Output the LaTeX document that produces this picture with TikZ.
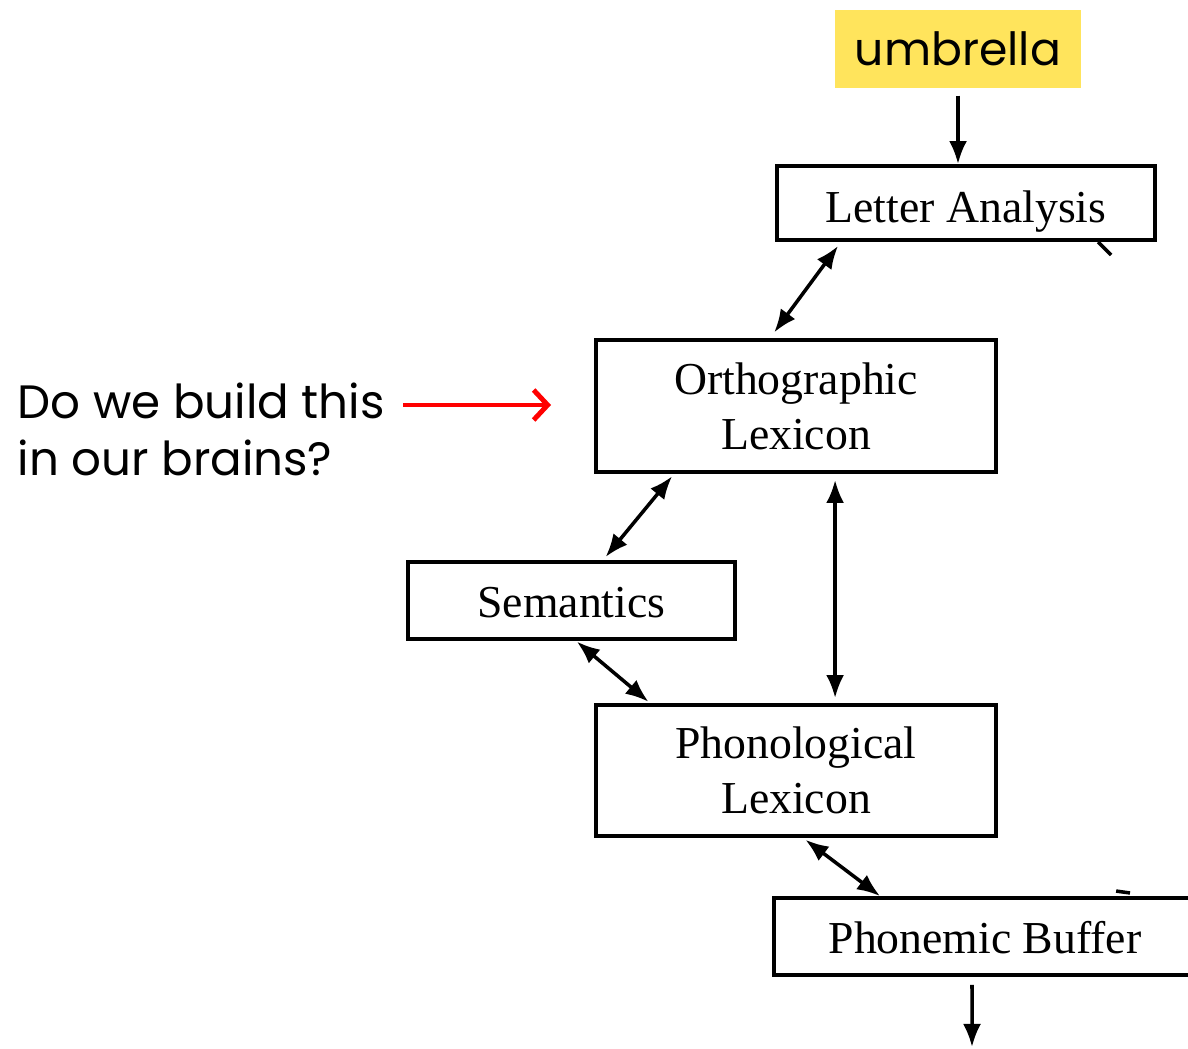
\documentclass[tikz,border=0pt]{standalone}
\usepackage{fontspec}
\setmainfont{Liberation Serif}
\newfontfamily\qfont{Poppins}
\usetikzlibrary{arrows.meta}
\definecolor{hiyellow}{RGB}{255,228,92}
\begin{document}
\begin{tikzpicture}[x=0.01cm, y=-0.01cm,
    box/.style={draw, line width=1.1pt, align=center, inner sep=0pt,
      font=\fontsize{13}{15.6}\selectfont},
    link/.style={line width=1pt, -{Latex[length=0.23cm,width=0.18cm]}},
    dlink/.style={line width=1pt, {Latex[length=0.23cm,width=0.18cm]}-{Latex[length=0.23cm,width=0.18cm]}},
    ask/.style={red, line width=1.4pt, -{Straight Barb[length=0.14cm,width=0.3cm]}}]
  \useasboundingbox (0,0) rectangle (1188,1049);

  \node (word) [fill=hiyellow, minimum width=2.46cm, minimum height=0.78cm,
    font=\qfont\fontsize{13}{15}\selectfont] at (958,49) {umbrella};

  \node (la) [box, minimum width=3.78cm, minimum height=0.74cm,
    text height=0.48cm, text depth=0.1cm] at (966,203) {Letter Analysis};
  \node (ol) [box, minimum width=4.00cm, minimum height=1.32cm] at (796,406) {Orthographic\\Lexicon};
  \node (sem) [box, minimum width=3.27cm, minimum height=0.77cm,
    text height=0.44cm, text depth=0.1cm] at (571.5,600.5) {Semantics};
  \node (pl) [box, minimum width=4.00cm, minimum height=1.31cm] at (796,770.5) {Phonological\\Lexicon};
  \node (pb) [box, minimum width=4.22cm, minimum height=0.77cm,
    text height=0.44cm, text depth=0.1cm] at (985,936.5) {Phonemic Buffer};

  \node (q) [anchor=west, align=left, inner sep=0pt,
    font=\qfont\fontsize{13.3}{16.2}\selectfont] at (17,429) {Do we build this\\in our brains?};

  \coordinate (out) at (972,1047);
  \coordinate (lastub) at (1111,255);
  \coordinate (pbstub) at (1130,893);
  \coordinate (qtip) at (551,405);

  \draw [link, shorten <=0.07cm] (word.south) -- (word.south |- la.north);
  \draw [dlink, shorten <=0.05cm, shorten >=0.07cm] ([xshift=0.66cm]la.south west) -- ([xshift=1.76cm]ol.north west);
  \draw [dlink, shorten <=0.03cm, shorten >=0.04cm] ([xshift=0.80cm]ol.south west) -- ([xshift=1.97cm]sem.north west);
  \draw [dlink, shorten <=0.06cm, shorten >=0.05cm] ([xshift=2.41cm]ol.south west) -- ([xshift=2.41cm]pl.north west);
  \draw [dlink, shorten <=0.01cm, shorten >=0.02cm] ([xshift=1.70cm]sem.south west) -- ([xshift=0.56cm]pl.north west);
  \draw [dlink, shorten <=0.03cm] ([xshift=2.09cm]pl.south west) -- ([xshift=1.08cm]pb.north west);
  \draw [link, shorten <=0.08cm] ([xshift=-0.13cm]pb.south) -- (out);

  \draw [line width=1pt] ([xshift=3.23cm]la.south west) -- (lastub);
  \draw [line width=1pt] ([xshift=3.44cm,yshift=0.05cm]pb.north west) -- (pbstub);

  \draw [ask, shorten <=0.18cm] (q.east |- qtip) -- (qtip);
\end{tikzpicture}
\end{document}
